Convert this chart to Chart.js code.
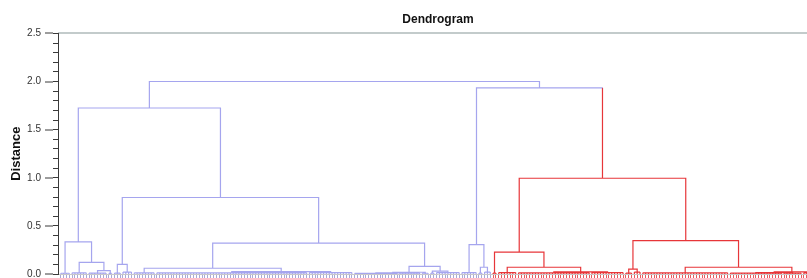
<!DOCTYPE html>
<html>
<head>
<meta charset="utf-8">
<title>Dendrogram</title>
<script src="https://cdn.jsdelivr.net/npm/chart.js@4.4.1/dist/chart.umd.min.js"></script>
<style>
  html, body { margin: 0; padding: 0; background: #fff; overflow: hidden; }
  #wrap { width: 818px; height: 278px; }
</style>
</head>
<body>
<div id="wrap"><canvas id="dendro" width="818" height="278"></canvas></div>
<script>
// --- data ---------------------------------------------------------------
const chartTitle = 'Dendrogram';
const yTitle = 'Distance';
const leafCount = 268;                 // leaves 0..267, left to right
const clusterColors = ['rgba(110,110,228,0.62)', 'rgba(228,32,36,0.9)'];
const leafTickColors = ['#a9a9d6', '#e65a5e'];

// bottom groups that join just above zero: [first leaf, last leaf, height, cluster]
const leafGroups = [
  [0, 3, 0.008, 0],
  [4, 9, 0.012, 0],
  [10, 16, 0.010, 0],
  [17, 18, 0.006, 0],
  [19, 21, 0.010, 0],
  [22, 25, 0.020, 0],
  [26, 33, 0.012, 0],
  [34, 87, 0.012, 0],
  [88, 103, 0.015, 0],
  [104, 119, 0.006, 0],
  [120, 127, 0.010, 0],
  [128, 130, 0.008, 0],
  [131, 132, 0.010, 0],
  [133, 141, 0.015, 0],
  [142, 147, 0.015, 0],
  [148, 149, 0.010, 0],
  [150, 152, 0.020, 0],
  [153, 154, 0.010, 1],
  [155, 161, 0.015, 1],
  [162, 187, 0.012, 1],
  [188, 199, 0.015, 1],
  [200, 202, 0.010, 1],
  [203, 205, 0.020, 1],
  [206, 236, 0.012, 1],
  [237, 255, 0.010, 1],
  [256, 262, 0.008, 1],
  [263, 267, 0.012, 1]
];

// merges: [left id, right id, distance]; ids past the groups point to earlier merges
const merges = [
  [2, 3, 0.035],    // 27
  [1, 27, 0.12],    // 28
  [0, 28, 0.334],   // 29
  [4, 5, 0.10],     // 30
  [7, 8, 0.025],    // 31
  [6, 31, 0.06],    // 32
  [9, 10, 0.012],   // 33
  [33, 11, 0.018],  // 34
  [12, 13, 0.03],   // 35
  [34, 35, 0.08],   // 36
  [32, 36, 0.32],   // 37
  [30, 37, 0.795],  // 38
  [29, 38, 1.725],  // 39
  [15, 16, 0.07],   // 40
  [14, 40, 0.306],  // 41
  [19, 20, 0.022],  // 42
  [18, 42, 0.07],   // 43
  [17, 43, 0.227],  // 44
  [21, 22, 0.05],   // 45
  [24, 25, 0.015],  // 46
  [46, 26, 0.022],  // 47
  [23, 47, 0.07],   // 48
  [45, 48, 0.347],  // 49
  [44, 49, 0.995],  // 50
  [41, 50, 1.935],  // 51
  [39, 51, 2.0]     // 52
];

// --- build the link paths ------------------------------------------------
const FONT = "'Liberation Sans', Arial, sans-serif";
const leafCluster = [];
const nodes = [];
leafGroups.forEach(([first, last, h, c]) => {
  for (let i = first; i <= last; i++) leafCluster[i] = c;
  nodes.push({ x: (first + last) / 2, h, c });
});
merges.forEach(([l, r, h]) => {
  const a = nodes[l], b = nodes[r];
  nodes.push({ x: (a.x + b.x) / 2, h, c: a.c === b.c ? a.c : 0, a, b });
});

const segs = clusterColors.map(() => []);
function seg(ci, pts) {
  pts.forEach(([x, y]) => segs[ci].push({ x, y }));
  segs[ci].push({ x: pts[0][0], y: null });
}

leafGroups.forEach(([first, last, h, c]) => {
  for (let i = first; i <= last; i++) seg(c, [[i, 0], [i, h]]);
  seg(c, [[first, h], [last, h]]);
});

nodes.filter(n => n.a).forEach(n => {
  const { a, b } = n;
  const pts = [];
  if (a.c === n.c) pts.push([a.x, a.h]); else seg(a.c, [[a.x, a.h], [a.x, n.h]]);
  pts.push([a.x, n.h], [b.x, n.h]);
  if (b.c === n.c) pts.push([b.x, b.h]); else seg(b.c, [[b.x, b.h], [b.x, n.h]]);
  seg(n.c, pts);
});

// --- chart ---------------------------------------------------------------
new Chart(document.getElementById('dendro'), {
  type: 'line',
  data: {
    datasets: segs.map((data, i) => ({
      data,
      borderColor: clusterColors[i],
      borderWidth: 1.2,
      pointRadius: 0,
      tension: 0,
      spanGaps: false,
      clip: false,
      yAxisID: 'y'
    }))
  },
  options: {
    responsive: false,
    animation: false,
    events: [],
    layout: { padding: 0 },
    plugins: {
      legend: { display: false },
      tooltip: { enabled: false },
      title: {
        display: true,
        text: chartTitle,
        fullSize: false,
        color: '#111',
        font: { family: FONT, size: 12, weight: 'bold' },
        padding: { top: 12, bottom: 7 }
      }
    },
    scales: {
      x: {
        type: 'linear',
        min: -1,
        max: leafCount,
        afterFit: s => { s.height = 4; s.paddingLeft = 0; s.paddingRight = 0; },
        ticks: { display: false, stepSize: 1, maxTicksLimit: 1000, autoSkip: false },
        grid: {
          drawOnChartArea: false,
          tickLength: 4,
          tickWidth: 1,
          tickColor: ctx => {
            const c = leafCluster[ctx.tick.value];
            return c === undefined ? 'rgba(0,0,0,0)' : leafTickColors[c];
          }
        },
        border: { display: true, color: '#c8c8c8', width: 1 }
      },
      // minor ticks, every 0.1
      y: {
        type: 'linear',
        position: 'left',
        weight: 0,
        min: 0,
        max: 2.5,
        afterFit: s => { s.width = 5; s.paddingTop = 0; s.paddingBottom = 0; },
        ticks: { display: false, stepSize: 0.1, maxTicksLimit: 100 },
        grid: { drawOnChartArea: false, tickLength: 5, tickColor: '#3a3a3a', tickWidth: 1 },
        border: { display: true, color: '#3a3a3a', width: 1 }
      },
      // labelled ticks, every 0.5
      y2: {
        type: 'linear',
        position: 'left',
        weight: 1,
        min: 0,
        max: 2.5,
        afterFit: s => { s.width = 53; s.paddingTop = 0; s.paddingBottom = 0; },
        ticks: {
          stepSize: 0.5,
          padding: 4,
          color: '#333',
          font: { family: FONT, size: 10 },
          callback: v => v.toFixed(1)
        },
        grid: {
          drawOnChartArea: true,
          color: ctx => (ctx.tick && ctx.tick.value === 2.5 ? '#c3cbcb' : 'rgba(0,0,0,0)'),
          lineWidth: 2,
          tickLength: 8,
          tickWidth: 1,
          tickColor: '#3a3a3a'
        },
        border: { display: false },
        title: {
          display: true,
          text: yTitle,
          color: '#111',
          font: { family: FONT, size: 13, weight: 'bold' },
          padding: { top: 9, bottom: 0 }
        }
      }
    }
  }
});
</script>
</body>
</html>
